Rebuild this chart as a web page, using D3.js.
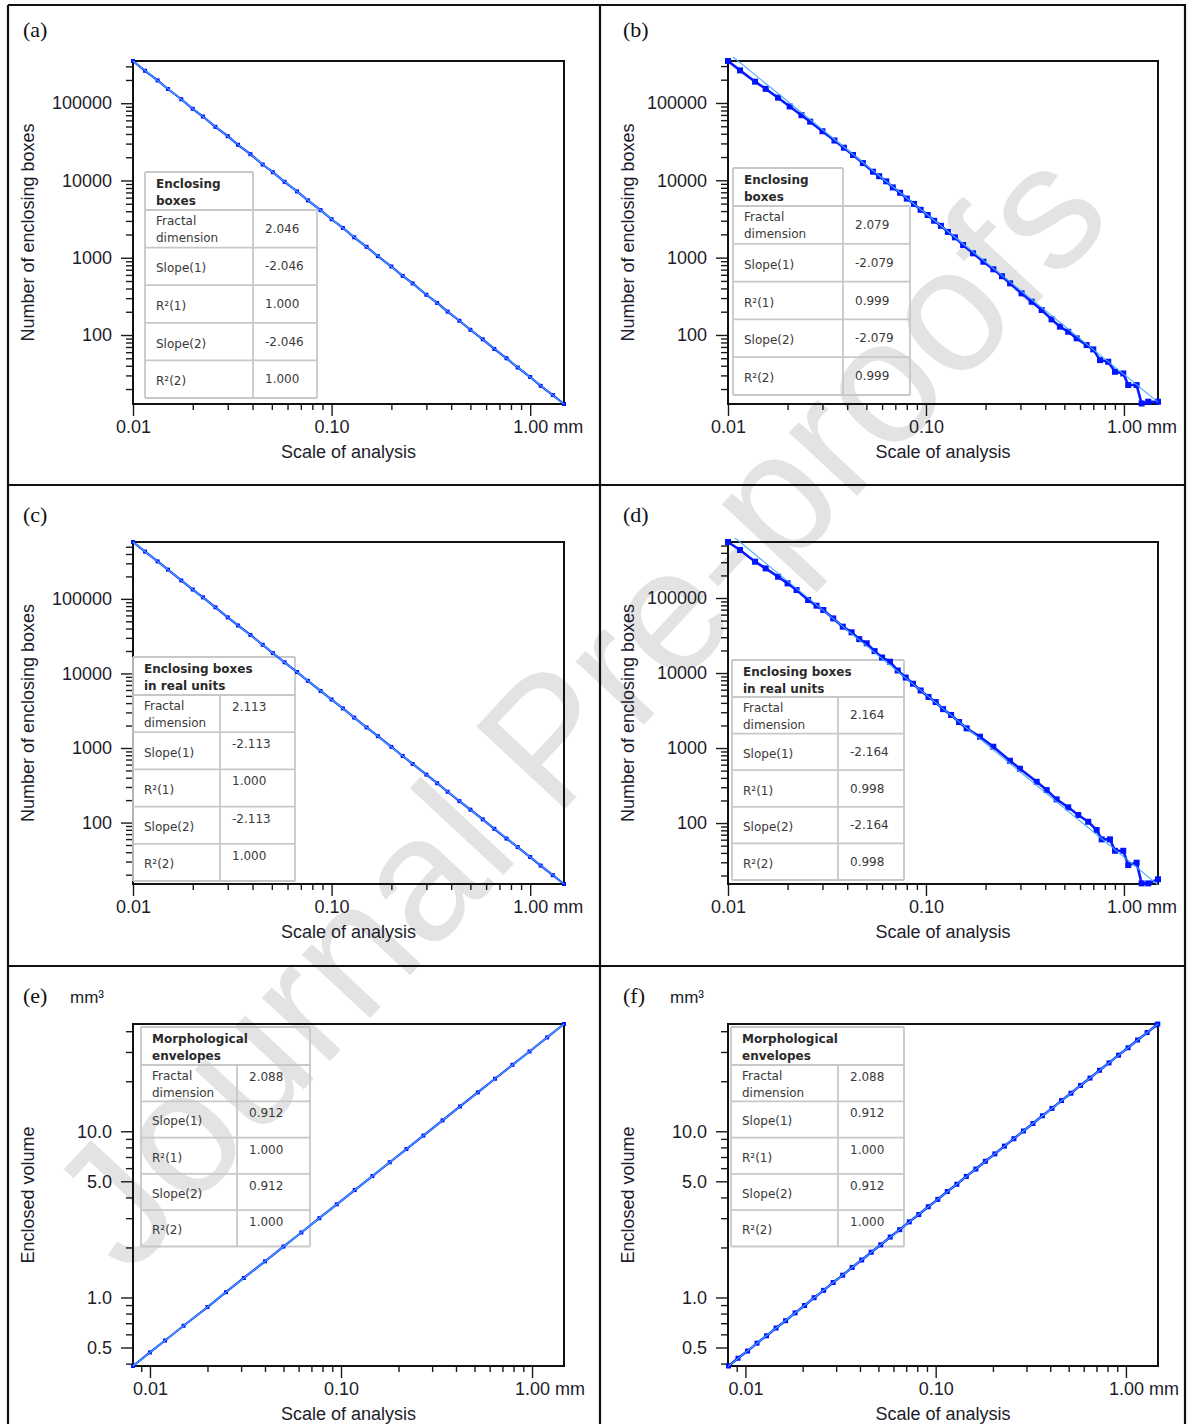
<!DOCTYPE html>
<html>
<head>
<meta charset="utf-8">
<script src="https://cdn.jsdelivr.net/npm/d3@7"></script>
<style>
  body { margin: 0; background: #ffffff; }
  svg { display: block; }
</style>
</head>
<body>
<svg id="fig" width="1187" height="1424"></svg>
<script>
// ------------------------------------------------------------------
// Measured series: scale of analysis (mm) and enclosing boxes / volume
// ------------------------------------------------------------------
const scaleA = [0.01, 0.0115, 0.0133, 0.015, 0.0175, 0.02, 0.0225, 0.026, 0.03, 0.0338, 0.039, 0.045, 0.0506, 0.058, 0.067, 0.076, 0.088, 0.1, 0.114, 0.13, 0.15, 0.171, 0.2, 0.228, 0.256, 0.3, 0.34, 0.384, 0.44, 0.5, 0.577, 0.66, 0.76, 0.865, 1.0, 1.13, 1.30, 1.48];
const countA = [352000, 263000, 197500, 152800, 112600, 84700, 67300, 49500, 37400, 29000, 21900, 16100, 12800, 9610, 7220, 5530, 4130, 3150, 2430, 1840, 1385, 1050, 770, 583, 465, 332, 260, 201, 153, 117, 88, 66, 50, 38, 28.6, 22, 16.7, 12.8];

const scaleB = [0.01, 0.0115, 0.0137, 0.0155, 0.0179, 0.0205, 0.0235, 0.026, 0.030, 0.0345, 0.0385, 0.0428, 0.048, 0.054, 0.058, 0.063, 0.068, 0.074, 0.080, 0.087, 0.094, 0.102, 0.110, 0.119, 0.129, 0.140, 0.154, 0.173, 0.195, 0.219, 0.242, 0.266, 0.304, 0.342, 0.384, 0.431, 0.475, 0.523, 0.577, 0.648, 0.700, 0.757, 0.833, 0.901, 0.992, 1.051, 1.159, 1.228, 1.327, 1.486];
const countB = [349000, 264000, 188600, 152300, 117100, 90100, 69500, 57300, 43100, 32700, 26400, 21250, 16700, 12920, 11300, 9700, 8100, 6900, 5800, 4950, 4150, 3560, 3000, 2580, 2150, 1830, 1455, 1137, 885, 706, 575, 465, 345, 269, 210, 159, 128, 110, 90.4, 74, 65.1, 47.3, 45, 33.4, 31.8, 22.5, 22.5, 13.0, 13.7, 13.7];

const scaleC = [0.01, 0.0115, 0.0133, 0.015, 0.0175, 0.02, 0.0225, 0.026, 0.03, 0.0338, 0.039, 0.045, 0.0506, 0.058, 0.067, 0.076, 0.088, 0.1, 0.114, 0.13, 0.15, 0.171, 0.2, 0.228, 0.256, 0.3, 0.34, 0.384, 0.44, 0.5, 0.577, 0.66, 0.76, 0.865, 1.0, 1.13, 1.30, 1.48];
const countC = [579000, 430000, 318000, 246500, 176500, 133500, 104800, 77100, 56500, 44000, 32800, 24200, 18750, 14100, 10450, 7960, 5820, 4470, 3395, 2560, 1890, 1440, 1035, 781, 611, 439, 337, 259, 194, 149, 110.5, 82.5, 61, 46.9, 34.5, 26.5, 19.7, 15.0];

const scaleD = [0.01, 0.0115, 0.0137, 0.0155, 0.0179, 0.0200, 0.0222, 0.0254, 0.0280, 0.0303, 0.034, 0.038, 0.0421, 0.0460, 0.0502, 0.0550, 0.060, 0.0658, 0.072, 0.079, 0.086, 0.094, 0.103, 0.112, 0.122, 0.134, 0.147, 0.1605, 0.1874, 0.2188, 0.2656, 0.2983, 0.3624, 0.407, 0.457, 0.523, 0.588, 0.660, 0.728, 0.772, 0.850, 0.901, 0.992, 1.051, 1.159, 1.228, 1.327, 1.486];
const countD = [558000, 436500, 304800, 248000, 192300, 156700, 127800, 94000, 79000, 69200, 53500, 41500, 34900, 28300, 24900, 19600, 16100, 14150, 10800, 8700, 7200, 5850, 4800, 4100, 3300, 2760, 2220, 1831, 1415, 1041, 677, 530, 355, 275, 207, 162, 128, 104, 80.7, 60.6, 60.6, 42.7, 42.7, 27.5, 29.6, 15.7, 15.7, 17.8];

const scaleE = [0.00815, 0.01, 0.012, 0.015, 0.02, 0.025, 0.031, 0.04, 0.05, 0.062, 0.077, 0.095, 0.118, 0.146, 0.18, 0.22, 0.27, 0.34, 0.42, 0.52, 0.64, 0.79, 0.97, 1.2, 1.47];
const volumeE = [0.387, 0.467, 0.551, 0.676, 0.876, 1.076, 1.31, 1.65, 2.025, 2.46, 3.0, 3.635, 4.43, 5.38, 6.51, 7.82, 9.42, 11.63, 14.1, 17.13, 20.7, 25.1, 30.2, 36.7, 44.2];

const scaleF = [0.00815, 0.00914, 0.01026, 0.01151, 0.01292, 0.01449, 0.01626, 0.01825, 0.02047, 0.02297, 0.02577, 0.02892, 0.03245, 0.0364, 0.04085, 0.04583, 0.05142, 0.0577, 0.06474, 0.07264, 0.0815, 0.09145, 0.1026, 0.1151, 0.1292, 0.1449, 0.1626, 0.1825, 0.2047, 0.2297, 0.2577, 0.2892, 0.3245, 0.364, 0.4085, 0.4583, 0.5142, 0.577, 0.6474, 0.7264, 0.815, 0.9145, 1.026, 1.151, 1.292, 1.449, 1.47];
const volumeF = [0.387, 0.431, 0.476, 0.531, 0.588, 0.655, 0.725, 0.808, 0.895, 0.997, 1.104, 1.23, 1.362, 1.517, 1.681, 1.871, 2.074, 2.31, 2.558, 2.85, 3.155, 3.515, 3.893, 4.34, 4.80, 5.35, 5.925, 6.60, 7.31, 8.14, 9.02, 10.04, 11.13, 12.4, 13.73, 15.3, 16.94, 18.87, 20.9, 23.28, 25.78, 28.7, 31.8, 35.4, 39.25, 43.6, 44.2];

// Fit statistics shown in each inset table:
// [fractal dimension, slope(1), R²(1), slope(2), R²(2)]
const statLabels = ["Fractal dimension", "Slope(1)", "R²(1)", "Slope(2)", "R²(2)"];
const statsA = [2.046, -2.046, 1.000, -2.046, 1.000];
const statsB = [2.079, -2.079, 0.999, -2.079, 0.999];
const statsC = [2.113, -2.113, 1.000, -2.113, 1.000];
const statsD = [2.164, -2.164, 0.998, -2.164, 0.998];
const statsE = [2.088, 0.912, 1.000, 0.912, 1.000];
const statsF = [2.088, 0.912, 1.000, 0.912, 1.000];

// Point each regression line passes through (scale mm, value)
const fitAnchorA = [0.01, 352000];
const fitAnchorB = [0.1, 3707];
const fitAnchorC = [0.01, 579000];
const fitAnchorD = [0.1, 5157];
const fitAnchorE = [0.00815, 0.387];
const fitAnchorF = [0.00815, 0.387];

// Tick labels
const scaleTicks = [0.01, 0.1, 1];
const scaleTickLabels = ["0.01", "0.10", "1.00"];
const countTicks = [100, 1000, 10000, 100000];
const countTickLabels = ["100", "1000", "10000", "100000"];
const volumeTicks = [0.5, 1, 5, 10];
const volumeTickLabels = ["0.5", "1.0", "5.0", "10.0"];

// ------------------------------------------------------------------
const svg = d3.select("#fig");
const W = 1187, H = 1424;
const SANS = "'Liberation Sans', Arial, sans-serif";
const TABLE_FONT = "'DejaVu Sans', Verdana, sans-serif";
const INK = "#1c1c2a";

// faint diagonal watermark behind everything
svg.append("text")
  .attr("transform", "translate(622,748) rotate(-47)")
  .attr("text-anchor", "middle")
  .attr("font-family", SANS)
  .attr("font-size", 176)
  .attr("fill", "#e3e3e3")
  .text("Journal Pre-proofs");

const panels = [
  { letter: "(a)", kind: "box", scale: scaleA, value: countA, stats: statsA, anchor: fitAnchorA,
    xDomain: [0.01, 1.48], yDomain: [12.8, 352000], marker: 4, lineW: 2.2,
    plot: { x: 133, y: 61, w: 431, h: 343 }, cell: { x: 0, y: 0 },
    header: ["Enclosing", "boxes"],
    table: { x: 145, y: 172, split: 253, right: 317, headRight: 253, headH: 38, rowH: 37.6, valueTop: false } },
  { letter: "(b)", kind: "box", scale: scaleB, value: countB, stats: statsB, anchor: fitAnchorB,
    xDomain: [0.01, 1.486], yDomain: [12.8, 349000], marker: 6, lineW: 2.6,
    plot: { x: 728, y: 61, w: 430, h: 343 }, cell: { x: 600, y: 0 },
    header: ["Enclosing", "boxes"],
    table: { x: 733, y: 168, split: 843, right: 910, headRight: 843, headH: 38, rowH: 37.8, valueTop: false } },
  { letter: "(c)", kind: "box", scale: scaleC, value: countC, stats: statsC, anchor: fitAnchorC,
    xDomain: [0.01, 1.48], yDomain: [15.0, 579000], marker: 4, lineW: 2.2,
    plot: { x: 133, y: 542, w: 431, h: 342 }, cell: { x: 0, y: 485 },
    header: ["Enclosing boxes", "in real units"],
    table: { x: 133, y: 657, split: 220, right: 295, headRight: 295, headH: 38, rowH: 37.2, valueTop: true } },
  { letter: "(d)", kind: "box", scale: scaleD, value: countD, stats: statsD, anchor: fitAnchorD,
    xDomain: [0.01, 1.486], yDomain: [15.4, 558000], marker: 6, lineW: 2.6,
    plot: { x: 728, y: 542, w: 430, h: 342 }, cell: { x: 600, y: 485 },
    header: ["Enclosing boxes", "in real units"],
    table: { x: 732, y: 660, split: 838, right: 904, headRight: 904, headH: 37, rowH: 36.6, valueTop: false } },
  { letter: "(e)", kind: "volume", scale: scaleE, value: volumeE, stats: statsE, anchor: fitAnchorE,
    xDomain: [0.00815, 1.47], yDomain: [0.387, 44.2], marker: 4, lineW: 2.2,
    plot: { x: 133, y: 1024, w: 431, h: 342 }, cell: { x: 0, y: 966 },
    header: ["Morphological", "envelopes"],
    table: { x: 141, y: 1027, split: 237, right: 310, headRight: 310, headH: 38, rowH: 36.3, valueTop: true } },
  { letter: "(f)", kind: "volume", scale: scaleF, value: volumeF, stats: statsF, anchor: fitAnchorF,
    xDomain: [0.0081, 1.474], yDomain: [0.387, 44.2], marker: 5, lineW: 2.4,
    plot: { x: 728, y: 1024, w: 430, h: 342 }, cell: { x: 600, y: 966 },
    header: ["Morphological", "envelopes"],
    table: { x: 731, y: 1027, split: 838, right: 904, headRight: 904, headH: 38, rowH: 36.3, valueTop: true } }
];

function near(a, b) { return Math.abs(a - b) / b < 1e-6; }

panels.forEach((p, i) => {
  const g = svg.append("g");
  const P = p.plot;
  const x = d3.scaleLog().domain(p.xDomain).range([P.x, P.x + P.w]);
  const y = d3.scaleLog().domain(p.yDomain).range([P.y + P.h, P.y]);

  const yMajor = p.kind === "box" ? countTicks : volumeTicks;
  const yLabels = p.kind === "box" ? countTickLabels : volumeTickLabels;

  // --- axes: minor ticks first, then labelled majors
  const xMinor = x.ticks().filter(v => !scaleTicks.some(m => near(v, m)));
  const yMinor = y.ticks().filter(v => !yMajor.some(m => near(v, m)));

  const styleAxis = sel => {
    sel.select(".domain").remove();
    sel.selectAll(".tick line").attr("stroke", "#1a1a1a").attr("stroke-width", 1.4);
    sel.selectAll(".tick text").attr("font-family", SANS).attr("font-size", 18).attr("fill", INK);
  };

  g.append("g").attr("transform", `translate(0,${P.y + P.h})`)
    .call(d3.axisBottom(x).tickValues(xMinor).tickSize(6).tickFormat(""))
    .call(styleAxis);
  const xAx = g.append("g").attr("transform", `translate(0,${P.y + P.h})`)
    .call(d3.axisBottom(x).tickValues(scaleTicks).tickSize(12).tickPadding(4)
      .tickFormat((d, k) => scaleTickLabels[k]))
    .call(styleAxis);
  // unit after the last scale label
  xAx.selectAll(".tick").filter(d => near(d, 1)).each(function () {
    const t = d3.select(this).select("text");
    const w = t.node().getComputedTextLength();
    d3.select(this).append("text")
      .attr("x", w / 2 + 5).attr("y", 16).attr("dy", "0.71em")
      .attr("text-anchor", "start")
      .attr("font-family", SANS).attr("font-size", 18).attr("fill", INK)
      .text("mm");
  });

  g.append("g").attr("transform", `translate(${P.x},0)`)
    .call(d3.axisLeft(y).tickValues(yMinor).tickSize(7).tickFormat(""))
    .call(styleAxis);
  g.append("g").attr("transform", `translate(${P.x},0)`)
    .call(d3.axisLeft(y).tickValues(yMajor).tickSize(12).tickPadding(9)
      .tickFormat((d, k) => yLabels[k]))
    .call(styleAxis);

  // --- plot frame
  g.append("rect")
    .attr("x", P.x).attr("y", P.y).attr("width", P.w).attr("height", P.h)
    .attr("fill", "none").attr("stroke", "#111").attr("stroke-width", 2);

  // --- axis titles
  const cx = P.x + P.w / 2;
  g.append("text")
    .attr("x", cx).attr("y", P.y + P.h + 54)
    .attr("text-anchor", "middle")
    .attr("font-family", SANS).attr("font-size", 18).attr("fill", INK)
    .text("Scale of analysis");
  const ly = P.y + P.h / 2;
  g.append("text")
    .attr("transform", `translate(${p.cell.x + 34},${ly}) rotate(-90)`)
    .attr("text-anchor", "middle")
    .attr("font-family", SANS).attr("font-size", 18).attr("fill", INK)
    .text(p.kind === "box" ? "Number of enclosing boxes" : "Enclosed volume");
  if (p.kind === "volume") {
    g.append("text")
      .attr("x", p.cell.x + 70).attr("y", p.cell.y + 37)
      .attr("font-family", SANS).attr("font-size", 17).attr("fill", INK)
      .text("mm³");
  }

  // panel letter
  g.append("text")
    .attr("x", p.cell.x + 23).attr("y", p.cell.y + 37)
    .attr("font-family", "'Liberation Serif', 'Times New Roman', serif")
    .attr("font-size", 22).attr("fill", "#111")
    .text(p.letter);

  // --- inset statistics table
  const T = p.table;
  const tg = g.append("g");
  const border = "#c8c8c8";
  const bw = 1.8;
  const rowsTop = T.y + T.headH;
  const bottom = rowsTop + T.rowH * statLabels.length;
  const hline = (x1, x2, yy) => tg.append("line").attr("x1", x1).attr("x2", x2).attr("y1", yy).attr("y2", yy)
    .attr("stroke", border).attr("stroke-width", bw);
  const vline = (xx, y1, y2) => tg.append("line").attr("x1", xx).attr("x2", xx).attr("y1", y1).attr("y2", y2)
    .attr("stroke", border).attr("stroke-width", bw);
  hline(T.x, T.headRight, T.y);
  vline(T.x, T.y, bottom);
  vline(T.headRight, T.y, rowsTop);
  vline(T.split, rowsTop, bottom);
  vline(T.right, rowsTop, bottom);
  for (let r = 0; r <= statLabels.length; r++) hline(T.x, T.right, rowsTop + r * T.rowH);

  const txt = (xx, yy, s, bold) => tg.append("text").attr("x", xx).attr("y", yy)
    .attr("font-family", TABLE_FONT).attr("font-size", 12)
    .attr("font-weight", bold ? "bold" : "normal")
    .attr("fill", bold ? "#2a2a2a" : "#3a3a3a").text(s);
  txt(T.x + 11, T.y + 16, p.header[0], true);
  txt(T.x + 11, T.y + 33, p.header[1], true);
  statLabels.forEach((lab, r) => {
    const top = rowsTop + r * T.rowH;
    if (r === 0) {
      txt(T.x + 11, top + 15, "Fractal", false);
      txt(T.x + 11, top + 32, "dimension", false);
    } else {
      txt(T.x + 11, top + T.rowH / 2 + 6, lab, false);
    }
    const vy = T.valueTop ? top + 16 : top + T.rowH / 2 + 4;
    txt(T.split + 12, vy, p.stats[r].toFixed(3), false);
  });

  // --- data and regression line (clipped to the plot frame)
  const clipId = "clip" + i;
  svg.append("clipPath").attr("id", clipId).append("rect")
    .attr("x", P.x - 4).attr("y", P.y - 4).attr("width", P.w + 8).attr("height", P.h + 8);
  const dg = g.append("g").attr("clip-path", `url(#${clipId})`);
  const pts = p.scale.map((s, k) => [s, p.value[k]]);

  dg.append("path")
    .attr("d", d3.line().x(d => x(d[0])).y(d => y(d[1]))(pts))
    .attr("fill", "none").attr("stroke", "#0a1cff").attr("stroke-width", p.lineW);
  const m = p.marker;
  dg.selectAll("rect.pt").data(pts).join("rect").attr("class", "pt")
    .attr("x", d => x(d[0]) - m / 2).attr("y", d => y(d[1]) - m / 2)
    .attr("width", m).attr("height", m).attr("fill", "#0014ff");

  const slope = p.stats[1];
  const fit = s => p.anchor[1] * Math.pow(s / p.anchor[0], slope);
  const fitPts = [p.xDomain[0], Math.sqrt(p.xDomain[0] * p.xDomain[1]), p.xDomain[1]].map(s => [s, fit(s)]);
  dg.append("path")
    .attr("d", d3.line().x(d => x(d[0])).y(d => y(d[1]))(fitPts))
    .attr("fill", "none").attr("stroke", "#45aaff").attr("stroke-width", 1.1);
});

// --- figure frame and panel dividers
const frame = svg.append("g").attr("stroke", "#111").attr("stroke-width", 2.2);
frame.append("line").attr("x1", 8).attr("x2", 1186).attr("y1", 5).attr("y2", 5);
frame.append("line").attr("x1", 8).attr("x2", 8).attr("y1", 5).attr("y2", H);
frame.append("line").attr("x1", 1185).attr("x2", 1185).attr("y1", 5).attr("y2", H);
frame.append("line").attr("x1", 600).attr("x2", 600).attr("y1", 5).attr("y2", H);
frame.append("line").attr("x1", 8).attr("x2", 1186).attr("y1", 485).attr("y2", 485);
frame.append("line").attr("x1", 8).attr("x2", 1186).attr("y1", 966).attr("y2", 966);
</script>
</body>
</html>
